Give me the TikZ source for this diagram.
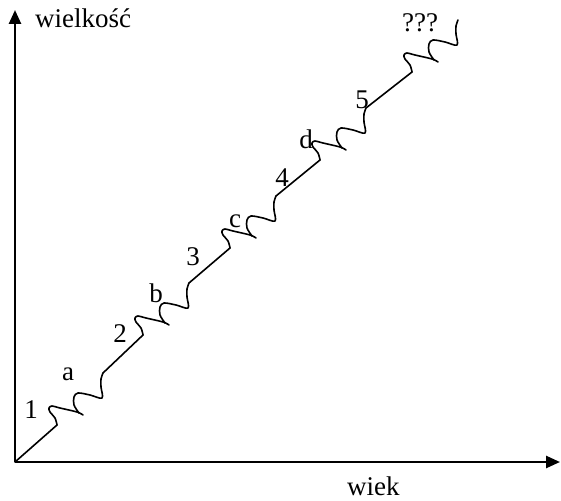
\documentclass[tikz,border=0pt]{standalone}
\usepackage{fontspec}
\setmainfont{Liberation Serif}
\usetikzlibrary{arrows.meta}
\begin{document}
\begin{tikzpicture}[x=1pt,y=-1pt,
  axis/.style={line width=2.5pt,-{Triangle[length=14pt,width=12pt]}},
  curve/.style={line width=1.6pt,line join=round,line cap=round},
  lbl/.style={font=\fontsize{27}{27}\selectfont,inner sep=0pt,anchor=base},
  wave/.pic={
    \draw[curve] plot[smooth,tension=0.55] coordinates {(0,0) (-2,-7) (-7,-13) (-8,-17) (-5,-19) (3,-17) (20,-13) (26,-10)};
    \draw[curve] plot[smooth,tension=0.55] coordinates {(22,-12) (17,-20) (17,-28) (21,-32) (33,-30) (45,-27) (44,-38) (44,-46) (46,-52)};
  }]
\useasboundingbox (0,0) rectangle (561,500);
% axes
\coordinate (O) at (15,462);
\coordinate (Ytip) at (15,10);
\coordinate (Xtip) at (560,462);
\draw[axis] (O) -- (Ytip);
\draw[axis] (O) -- (Xtip);
\node[lbl,anchor=base west] (ylab) at (35,28) {wielkość};
\node[lbl,anchor=base west] (xlab) at (347,495) {wiek};
% growth curve
\coordinate (S1) at (57,425);  \coordinate (E1) at (103,373);
\coordinate (S2) at (143,335); \coordinate (E2) at (189,283);
\coordinate (S3) at (230,248); \coordinate (E3) at (276,196);
\coordinate (S4) at (320,160); \coordinate (E4) at (366,108);
\coordinate (S5) at (412,72);
\draw[curve] (O) -- (S1);
\pic at (S1) {wave};
\draw[curve] (E1) -- (S2);
\pic at (S2) {wave};
\draw[curve] (E2) -- (S3);
\pic at (S3) {wave};
\draw[curve] (E3) -- (S4);
\pic at (S4) {wave};
\draw[curve] (E4) -- (S5);
\pic at (S5) {wave};
% labels
\node[lbl] (l1) at (31,418) {1};
\node[lbl] (la) at (68,380) {a};
\node[lbl] (l2) at (120,342) {2};
\node[lbl] (lb) at (156,302) {b};
\node[lbl] (l3) at (193,265) {3};
\node[lbl] (lc) at (235,227) {c};
\node[lbl] (l4) at (282,186) {4};
\node[lbl] (ld) at (306,148) {d};
\node[lbl] (l5) at (362,108) {5};
\node[lbl] (lq) at (420,32) {???};
\end{tikzpicture}
\end{document}
